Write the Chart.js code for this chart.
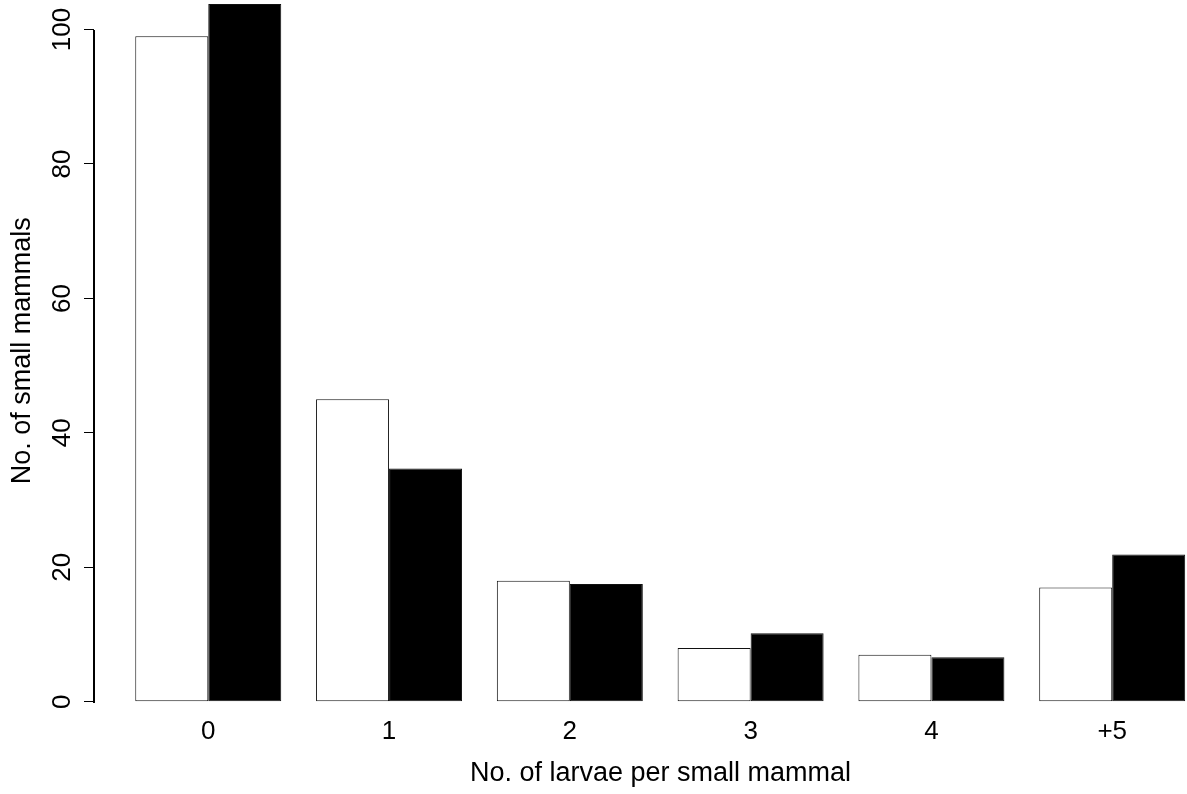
<!DOCTYPE html>
<html>
<head>
<meta charset="utf-8">
<script src="https://cdn.jsdelivr.net/npm/chart.js@4"></script>
<style>
  html, body { margin: 0; padding: 0; background: #fff; overflow: hidden; }
  /* the plot region runs a little past the right edge, as in the original figure */
  #wrap { width: 1187px; height: 794px; overflow: hidden; }
  #chart { display: block; }
</style>
</head>
<body>
<div id="wrap"><canvas id="chart" width="1227" height="794"></canvas></div>
<script>

// larvae count classes
let categories = ['0', '1', '2', '3', '4', '+5'];

// two series of small mammal counts (white bars, black bars)
let whiteCounts = [99, 45, 18, 8, 7, 17];
let blackCounts = [103.8, 34.7, 17.5, 10.2, 6.6, 21.9];

let yTicks = [0, 20, 40, 60, 80, 100];

let fontFamily = "'Liberation Sans', Arial, sans-serif";


function toPoints(values) {
  return values.map((v, i) => ({ x: i, y: v }));
}

// y axis drawn R-style: line only from first to last tick, labels turned 90 degrees
let rAxisPlugin = {
  id: 'rAxis',
  afterDraw(chart) {
    let c = chart.ctx;
    let y = chart.scales.y;
    let top = y.getPixelForValue(yTicks[yTicks.length - 1]);
    let bottom = y.getPixelForValue(yTicks[0]);
    c.save();
    c.fillStyle = '#000';
    c.fillRect(Math.round(y.right) - 1, Math.round(top), 2, Math.round(bottom - top) + 1);

    c.font = '26px ' + fontFamily;
    c.textAlign = 'center';
    c.textBaseline = 'middle';
    yTicks.forEach(v => {
      c.save();
      c.translate(y.right - 31, y.getPixelForValue(v));
      c.rotate(-Math.PI / 2);
      c.fillText(String(v), 0, 0);
      c.restore();
    });
    c.restore();
  }
};


let ctx = document.getElementById('chart');

new Chart(ctx, {
  type: 'bar',
  data: {
    datasets: [
      {
        label: 'white',
        data: toPoints(whiteCounts),
        backgroundColor: '#ffffff',
        borderColor: '#111',
        borderWidth: 1,
        borderSkipped: false
      },
      {
        label: 'black',
        data: toPoints(blackCounts),
        backgroundColor: '#000000',
        borderColor: '#111',
        borderWidth: 1,
        borderSkipped: false
      }
    ]
  },
  options: {
    responsive: false,
    animation: false,
    devicePixelRatio: 1,
    categoryPercentage: 0.8075,
    barPercentage: 1,
    plugins: {
      legend: { display: false },
      tooltip: { enabled: false }
    },
    scales: {
      x: {
        type: 'linear',
        offset: false,
        min: -0.632,
        max: 5.635,
        afterBuildTicks: s => { s.ticks = categories.map((c, i) => ({ value: i })); },
        afterFit: s => { s.height = 92.3; },
        grid: { display: false, drawTicks: false },
        border: { display: false },
        ticks: {
          color: '#000',
          padding: 15,
          maxRotation: 0,
          font: { family: fontFamily, size: 26 },
          callback: v => categories[v]
        },
        title: {
          display: true,
          text: 'No. of larvae per small mammal',
          color: '#000',
          padding: { top: 0, bottom: 4 },
          font: { family: fontFamily, size: 27 }
        }
      },
      y: {
        min: 0,
        max: 104.4,
        afterBuildTicks: s => { s.ticks = yTicks.map(v => ({ value: v })); },
        afterFit: s => { s.width = 94; },
        grid: {
          drawOnChartArea: false,
          drawTicks: true,
          tickLength: 10,
          color: '#000',
          lineWidth: 1
        },
        border: { display: false },
        ticks: { display: false },
        title: {
          display: true,
          text: 'No. of small mammals',
          color: '#000',
          padding: { top: 6, bottom: 0 },
          font: { family: fontFamily, size: 27 }
        }
      }
    }
  },
  plugins: [rAxisPlugin]
});

</script>
</body>
</html>
